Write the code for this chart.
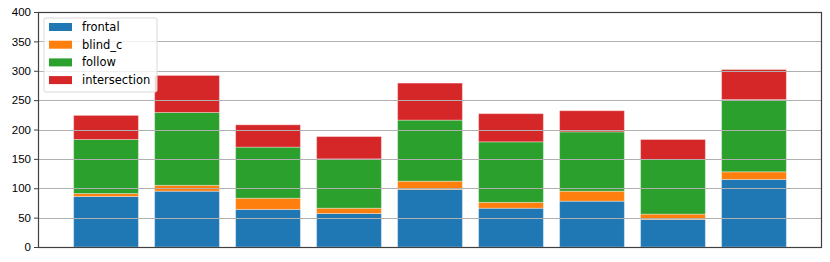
<!DOCTYPE html>
<html>
<head>
<meta charset="utf-8">
<script src="https://cdn.jsdelivr.net/npm/d3@7"></script>
<style>
  body { margin: 0; background: #fff; }
  svg { font-family: "DejaVu Sans", sans-serif; }
</style>
</head>
<body>
<script>
      const width = 830;
      const height = 262;
      const margins = { top: 12, right: 8, bottom: 15, left: 38 };

      // one entry per bar, no x labels in the original
      const groups = ["0", "1", "2", "3", "4", "5", "6", "7", "8"];
      const seriesNames = ["frontal", "blind_c", "follow", "intersection"];
      const colors = ["#1f77b4", "#ff7f0e", "#2ca02c", "#d62728"];

      const frontal = [86, 95, 64, 57, 98, 66, 78, 47, 115];
      const blindC = [5, 10, 19, 9, 14, 10, 17, 9, 13];
      const follow = [92, 124, 87, 84, 104, 103, 101, 93, 123];
      const intersection = [41, 63, 38, 38, 63, 48, 36, 34, 51];

      const yTicks = [0, 50, 100, 150, 200, 250, 300, 350, 400];

      const table = groups.map((g, i) => ({
        group: g,
        frontal: frontal[i],
        blind_c: blindC[i],
        follow: follow[i],
        intersection: intersection[i],
      }));

      const stacked = d3.stack().keys(seriesNames)(table);

      const svg = d3
        .select("body")
        .append("svg")
        .attr("width", width)
        .attr("height", height);

      const x = d3
        .scaleBand()
        .domain(groups)
        .range([margins.left, width - margins.right])
        .paddingInner(0.2)
        .paddingOuter(0.44);

      const y = d3
        .scaleLinear()
        .domain([0, 400])
        .range([height - margins.bottom, margins.top]);

      // bars
      svg
        .selectAll("g.layer")
        .data(stacked)
        .enter()
        .append("g")
        .attr("class", "layer")
        .attr("fill", (d, i) => colors[i])
        .selectAll("rect")
        .data((d) => d)
        .enter()
        .append("rect")
        .attr("x", (d) => x(d.data.group))
        .attr("width", x.bandwidth())
        .attr("y", (d) => y(d[1]))
        .attr("height", (d) => y(d[0]) - y(d[1]))
        .attr("stroke", "#ffffff")
        .attr("stroke-opacity", 0.35)
        .attr("stroke-width", 1);

      // grid drawn over the bars
      svg
        .append("g")
        .selectAll("line")
        .data(yTicks.slice(1, -1))
        .enter()
        .append("line")
        .attr("x1", margins.left)
        .attr("x2", width - margins.right)
        .attr("y1", (d) => Math.round(y(d)) + 0.5)
        .attr("y2", (d) => Math.round(y(d)) + 0.5)
        .attr("stroke", "#b0b0b0")
        .attr("stroke-width", 1);

      // frame
      svg
        .append("rect")
        .attr("x", margins.left + 0.5)
        .attr("y", Math.round(y(400)) + 0.5)
        .attr("width", width - margins.right - margins.left - 1)
        .attr("height", Math.round(y(0)) - Math.round(y(400)))
        .attr("fill", "none")
        .attr("stroke", "#404040")
        .attr("stroke-width", 1.2);

      const yAxis = d3
        .axisLeft(y)
        .tickValues(yTicks)
        .tickSize(4)
        .tickPadding(3);

      const yg = svg
        .append("g")
        .attr("transform", "translate(" + margins.left + ",0)")
        .call(yAxis);
      yg.select(".domain").remove();
      yg.selectAll("line").attr("stroke", "#404040");
      yg.selectAll("text")
        .attr("font-size", "11.5px")
        .attr("fill", "#000");

      // legend
      const legend = svg.append("g").attr("transform", "translate(44,18)");
      legend
        .append("rect")
        .attr("width", 113)
        .attr("height", 74)
        .attr("rx", 2)
        .attr("fill", "#fff")
        .attr("fill-opacity", 0.8)
        .attr("stroke", "#d9d9d9");

      const items = legend
        .selectAll("g.item")
        .data(seriesNames)
        .enter()
        .append("g")
        .attr("class", "item")
        .attr("transform", (d, i) => "translate(5," + (9 + i * 17.7) + ")");

      items
        .append("rect")
        .attr("x", 0)
        .attr("y", -4)
        .attr("width", 23)
        .attr("height", 8)
        .attr("fill", (d, i) => colors[i]);

      items
        .append("text")
        .attr("x", 33)
        .attr("dy", "0.35em")
        .attr("font-size", "11.5px")
        .text((d) => d);
</script>
</body>
</html>
